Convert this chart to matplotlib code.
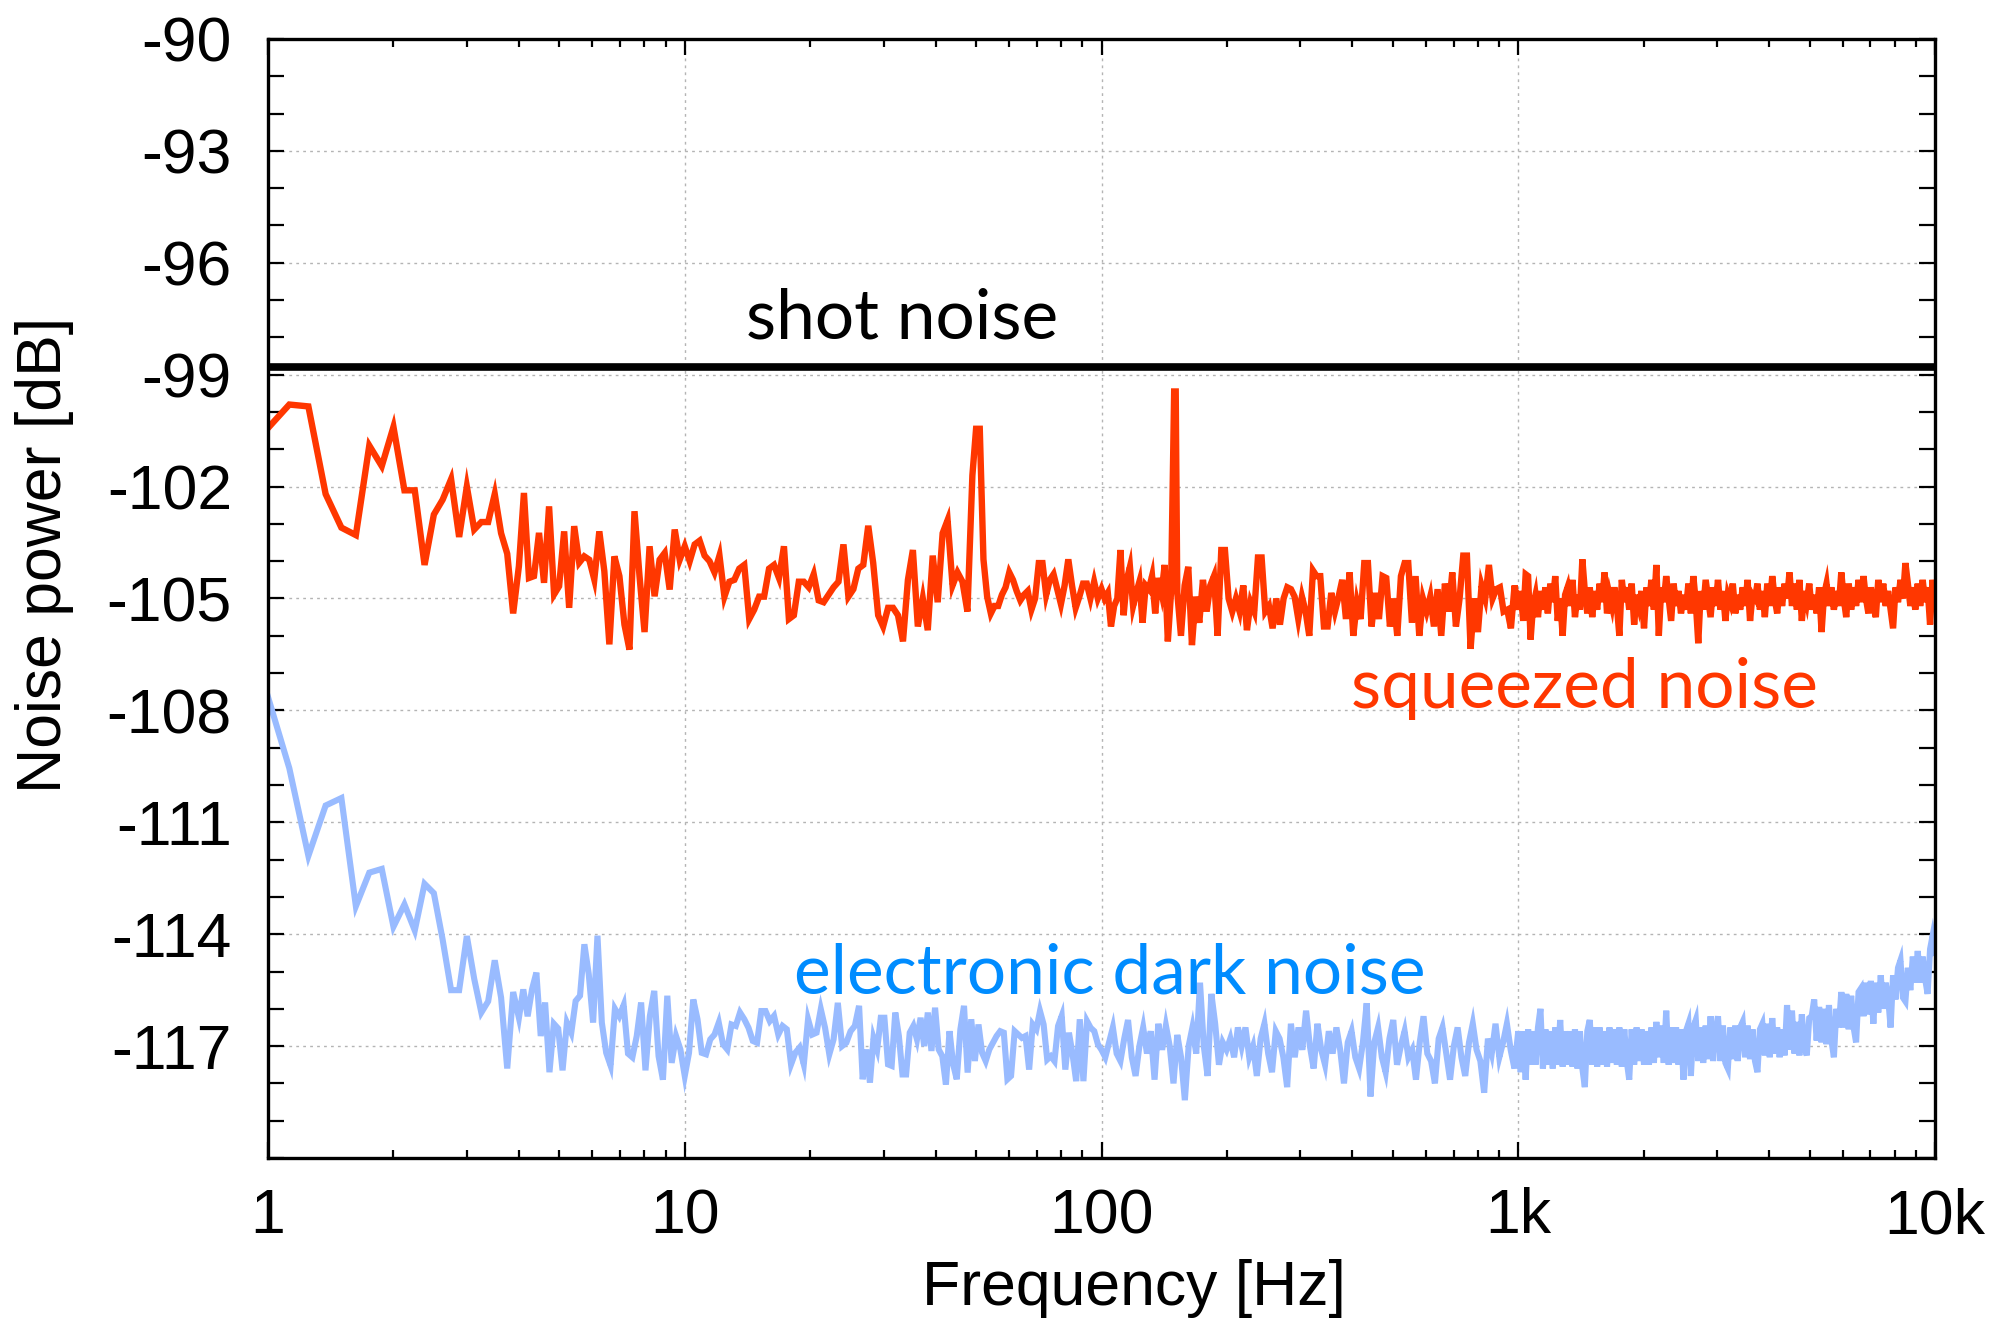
import numpy as np
import matplotlib
matplotlib.use("Agg")
import matplotlib.pyplot as plt
from matplotlib.ticker import FixedLocator, FixedFormatter, MultipleLocator, NullFormatter

plt.rcParams["axes.unicode_minus"] = False

# ---------------- data ----------------
x_ticks = [1, 10, 100, 1000, 10000]
x_tick_labels = ["1", "10", "100", "1k", "10k"]
y_ticks = [-90, -93, -96, -99, -102, -105, -108, -111, -114, -117]

shot_noise_level = -98.8

# squeezed noise (dB) -- spectrum pieces
sq_f_start, sq_f_step = 1.0, 0.125
sq_1_4 = [-100.43, -99.80, -99.85, -102.2, -103.1, -103.3, -100.9, -101.45, -100.4, -102.1,
          -102.1, -104.1, -102.75, -102.35, -101.8, -103.35, -102.0, -103.15, -102.95, -102.95,
          -102.2, -103.25, -103.8, -105.4]
sq_4_10 = [-104.13, -102.17, -104.45, -104.40, -103.24, -104.58, -102.53, -104.89, -104.67, -103.2,
           -105.25, -103.06, -104.04, -103.87, -103.96, -104.49, -103.2, -104.27, -106.23, -103.87,
           -104.4, -105.7, -106.37, -102.66, -104.4, -105.9, -103.6, -104.94, -103.96, -103.78,
           -104.76, -103.15, -103.96]
sq_10_49 = [-103.6, -104.0, -103.55, -103.45, -103.85, -104.0, -104.3, -103.85, -104.95, -104.55,
            -104.5, -104.2, -104.1, -105.55, -105.3, -104.95, -104.95, -104.2, -104.1, -104.45,
            -103.6, -105.55, -105.45, -104.55, -104.55, -104.7, -104.35, -105.05, -105.1, -104.9,
            -104.7, -104.55, -103.55, -104.95, -104.75, -104.2, -104.1, -103.05, -104.05, -105.45,
            -105.75, -105.25, -105.25, -105.45, -106.15, -104.5, -103.7, -105.75, -105.0, -105.85,
            -103.85, -105.1, -103.25, -102.9, -104.65, -104.3, -104.55, -105.35]
sq_49_100 = [-101.7, -100.45, -100.45, -103.95, -104.95, -105.4, -105.2, -105.2, -104.9, -104.7,
             -104.3, -104.5, -104.8, -105.05, -104.9, -104.8, -105.3, -105.0, -104.05, -104.05,
             -104.9, -104.5, -104.35, -104.75, -105.15, -104.65, -103.95, -104.65, -105.25, -104.95,
             -104.6, -104.6, -105.0, -104.55, -105.0]
sq_100_149 = [-104.75, -105.0, -104.85, -105.75, -105.2, -105.0, -103.7, -105.45, -104.5, -104.15,
              -105.2, -104.85, -104.55, -105.65, -104.65, -104.75, -104.4, -105.4, -104.45, -104.85,
              -104.1, -106.15, -104.85]
sq_149_152 = [-99.45, -99.45]
sq_152_1k = [-104.85, -106.0, -104.65, -104.15, -106.25, -104.95, -105.65, -104.5, -105.35, -104.65,
             -104.4, -106.0, -103.7, -103.7, -105.0, -105.35, -105.0, -105.35, -104.65, -105.85,
             -105.1, -105.35, -103.9, -103.9, -105.35, -105.2, -105.8, -105.0, -105.7, -105.0,
             -104.7, -104.75, -104.95, -105.55, -104.95, -105.35, -106.0, -104.25, -104.4, -104.4,
             -105.75, -105.75, -104.85, -105.35, -104.95, -104.5, -105.55, -104.3, -106.0, -105.1,
             -105.55, -104.05, -104.05, -105.75, -104.85, -105.55, -104.4, -104.45, -105.75, -105.0,
             -106.0, -104.4, -104.05, -104.05, -105.65, -104.4, -106.0, -105.0, -105.35, -104.95,
             -105.75, -104.75, -106.0, -104.6, -105.35, -104.3, -105.75, -105.0, -103.85, -103.85,
             -106.35, -105.0, -105.9, -104.65, -105.0, -104.1, -105.0, -104.75, -104.7, -105.35,
             -105.3, -105.8, -104.65]
sq_1k_10k = [-105.3, -104.8, -105.6, -104.35, -104.4, -106.1, -105.2, -104.9, -105.5, -104.8,
             -105.3, -104.7, -105.4, -104.6, -105.1, -104.4, -105.6, -105.0, -106.0, -104.9,
             -104.7, -105.2, -104.5, -105.5, -104.9, -105.3, -103.95, -104.8, -105.4, -104.7,
             -105.5, -104.8, -105.3, -104.6, -105.1, -104.3, -105.4, -104.9, -105.2, -104.7,
             -105.2, -106.0, -104.5, -105.1, -104.7, -105.3, -104.6, -105.7, -104.9, -105.2,
             -104.8, -105.8, -104.7, -105.2, -104.5, -105.3, -104.1, -106.0, -104.7, -105.1,
             -104.4, -105.0, -105.6, -104.6, -105.2, -104.8, -105.4, -104.9, -105.3, -104.6,
             -105.4, -104.4, -105.1, -106.2, -104.8, -105.3, -104.5, -105.0, -105.5, -104.7,
             -105.2, -104.5, -105.3, -104.8, -105.6, -104.9, -105.1, -104.6, -105.4, -104.9,
             -105.3, -104.7, -105.2, -104.5, -105.6, -104.9, -105.0, -104.6, -105.3, -104.8,
             -105.5, -104.6, -105.2, -104.4, -105.0, -105.4, -104.7, -105.2, -104.6, -105.0,
             -104.3, -105.2, -104.6, -105.3, -104.5, -105.6, -104.8, -105.1, -104.6, -105.3,
             -104.9, -105.4, -104.7, -105.9, -104.9, -104.6, -105.2, -104.7, -105.3, -104.8,
             -105.2, -104.3, -105.0, -105.5, -104.6, -105.3, -104.7, -105.2, -104.5, -105.1,
             -104.4, -105.0, -105.4, -104.7, -105.2, -105.5, -104.5, -105.1, -104.6, -105.2,
             -104.8, -105.3, -105.8, -104.7, -105.1, -104.5, -105.0, -104.05, -104.6, -105.2,
             -104.7, -105.3, -104.6, -105.2, -104.5, -105.1, -104.7, -105.7, -104.5, -105.0]

# electronic dark noise (dB)
dk_1_4 = [-107.64, -109.55, -111.9, -110.55, -110.35, -113.25, -112.35, -112.25, -113.8, -113.2,
          -113.9, -112.65, -112.9, -114.15, -115.5, -115.5, -114.05, -115.2, -116.1, -115.8,
          -114.7, -115.7, -117.6, -115.55]
dk_4_10 = [-116.24, -115.48, -116.2, -115.48, -115.03, -116.73, -115.83, -117.7, -116.4, -116.53,
           -117.65, -116.37, -116.64, -115.79, -115.65, -114.27, -115.07, -116.37, -114.04, -116.37,
           -117.18, -117.52, -116.0, -116.2, -115.9, -117.2, -117.3, -116.73, -115.83, -117.65,
           -116.2, -115.52, -117.27, -117.9, -115.65, -117.45, -116.73, -117.09]
dk_10_26 = [-117.8, -117.18, -115.75, -116.28, -117.18, -117.22, -116.82, -116.69, -116.37, -116.95,
            -117.09, -116.42, -116.46, -116.1, -116.28, -116.51, -116.86, -116.91, -116.06, -116.06,
            -116.33, -116.19, -116.69, -116.46, -116.55, -117.49, -117.18, -117.04, -117.49, -116.28,
            -116.69, -116.64, -116.01, -116.51, -117.22, -116.82, -115.84, -117.0, -116.91, -116.6,
            -116.46]
dk_26_100 = [-115.92, -117.89, -117.09, -117.98, -116.78, -117.09, -116.24, -116.24, -117.49, -117.53,
             -116.1, -116.73, -117.76, -117.76, -116.64, -116.46, -116.82, -116.24, -117.0, -116.1,
             -117.13, -115.97, -117.09, -117.27, -118.03, -116.6, -117.49, -117.89, -116.55, -115.92,
             -117.71, -116.28, -117.4, -116.42, -117.18, -117.4, -117.09, -116.91, -116.73, -116.6,
             -116.64, -117.89, -117.8, -116.6, -116.69, -116.78, -116.73, -117.63, -116.42, -116.55,
             -116.06, -116.42, -117.36, -117.27, -117.4, -116.46, -116.19, -117.63, -116.64, -117.22,
             -117.94, -116.28, -117.94, -116.33, -116.51, -116.6, -116.95]
dk_100_1k = [-117.1, -117.3, -116.9, -116.5, -117.2, -117.4, -116.8, -116.3, -117.3, -117.8,
             -117.0, -116.5, -117.2, -116.6, -117.9, -116.4, -117.1, -116.45, -117.0, -118.0,
             -116.7, -117.3, -118.45, -117.0, -116.5, -117.2, -115.3, -117.0, -117.8, -115.6,
             -116.4, -117.5, -116.9, -117.1, -116.8, -117.3, -116.5, -117.0, -116.5, -117.3,
             -117.0, -117.8, -116.8, -116.4, -117.2, -117.7, -116.6, -116.8, -117.3, -118.1,
             -116.4, -117.3, -116.5, -117.1, -116.05, -117.0, -117.6, -116.4, -117.1, -117.5,
             -116.6, -117.2, -116.5, -117.1, -118.0, -116.9, -116.6, -117.3, -117.6, -116.9,
             -115.85, -118.35, -116.9, -116.5, -117.3, -117.7, -116.8, -116.3, -117.5, -117.0,
             -116.6, -117.3, -117.1, -117.9, -116.9, -116.2, -117.2, -117.4, -118.0, -116.8,
             -116.5, -117.2, -117.9, -117.0, -116.5, -117.3, -117.8, -116.9, -116.4, -117.1,
             -117.4, -118.25, -116.8, -117.2, -116.4, -117.3, -116.9, -116.4, -117.1, -117.6]
dk_1k_10k = [-116.6, -117.7, -116.6, -117.9, -116.55, -117.5, -116.6, -117.5, -116.5, -116.0,
             -117.6, -116.55, -117.5, -116.6, -117.6, -116.5, -117.5, -116.3, -117.55, -116.6,
             -117.5, -116.6, -117.55, -116.55, -117.6, -116.6, -117.6, -118.1, -116.6, -116.3,
             -117.5, -116.5, -117.55, -116.5, -117.5, -116.6, -117.55, -116.5, -117.45, -116.55,
             -117.5, -116.5, -117.55, -116.55, -117.4, -117.9, -116.55, -117.5, -116.5, -117.4,
             -116.55, -117.5, -116.6, -117.5, -116.5, -117.45, -116.35, -117.3, -116.45, -117.45,
             -116.05, -117.5, -116.5, -117.45, -116.5, -117.5, -116.55, -117.9, -116.6, -116.4,
             -117.8, -116.5, -116.3, -117.4, -116.5, -117.45, -116.45, -117.35, -116.2, -117.4,
             -116.6, -116.2, -117.4, -116.45, -117.45, -117.6, -116.5, -117.35, -116.45, -117.4,
             -116.5, -116.35, -117.3, -116.45, -117.35, -116.55, -117.4, -117.7, -116.55, -116.4,
             -117.25, -116.4, -117.3, -116.25, -117.2, -116.5, -117.3, -116.55, -117.25, -115.9,
             -117.1, -116.05, -117.2, -116.35, -117.25, -116.15, -117.0, -117.25, -116.25, -116.2,
             -115.75, -116.85, -115.95, -116.9, -116.0, -116.95, -115.9, -116.85, -117.3, -116.0,
             -116.5, -115.55, -116.5, -115.6, -116.55, -115.65, -116.5, -116.9, -115.55, -115.45,
             -116.2, -115.3, -116.15, -115.25, -116.4, -115.3, -116.1, -115.1, -116.0, -115.3,
             -115.7, -116.5, -115.1, -115.75, -114.9, -114.7, -115.7, -115.8, -114.9, -115.5,
             -114.6, -115.3, -114.45, -115.3, -114.6, -115.2, -115.6, -114.4, -114.05, -114.5]


def log_bins(f0, f1, vals, endpoint=False):
    return np.geomspace(f0, f1, len(vals), endpoint=endpoint)


def lin_bins(f0, df, vals):
    return f0 + df * np.arange(len(vals))


sq_f = np.concatenate([
    lin_bins(sq_f_start, sq_f_step, sq_1_4),
    log_bins(4, 10, sq_4_10),
    log_bins(10, 49, sq_10_49),
    log_bins(49, 100, sq_49_100),
    log_bins(100, 149.4, sq_100_149),
    log_bins(149.4, 152, sq_149_152),
    log_bins(152, 1000, sq_152_1k),
    log_bins(1000, 10000, sq_1k_10k, endpoint=True),
])
sq_db = np.concatenate([sq_1_4, sq_4_10, sq_10_49, sq_49_100, sq_100_149,
                        sq_149_152, sq_152_1k, sq_1k_10k])

dk_f = np.concatenate([
    lin_bins(sq_f_start, sq_f_step, dk_1_4),
    log_bins(4, 10, dk_4_10),
    log_bins(10, 26.2, dk_10_26),
    log_bins(26.2, 100, dk_26_100),
    log_bins(100, 1000, dk_100_1k),
    log_bins(1000, 10000, dk_1k_10k, endpoint=True),
])
dk_db = np.concatenate([dk_1_4, dk_4_10, dk_10_26, dk_26_100, dk_100_1k, dk_1k_10k])

# ---------------- figure ----------------
W, H = 1998, 1320
fig = plt.figure(figsize=(W / 100, H / 100), dpi=100)
ax = fig.add_axes([268 / W, 1 - 1158 / H, (1935 - 268) / W, (1158 - 39) / H])

RED = "#ff3700"
BLUE_LINE = "#99bbff"
BLUE_TEXT = "#008cff"
TICK_FONT = "Liberation Sans"
ANN_FONT = "Lato"

ax.set_xscale("log")
ax.set_xlim(1, 10000)
ax.set_ylim(-120, -90)

ax.plot(dk_f, dk_db, color=BLUE_LINE, lw=4.4, solid_joinstyle="miter", zorder=3)
ax.plot(sq_f, sq_db, color=RED, lw=4.6, solid_joinstyle="miter", zorder=4)
ax.axhline(shot_noise_level, color="black", lw=5.5, zorder=5)

ax.xaxis.set_major_locator(FixedLocator(x_ticks))
ax.xaxis.set_major_formatter(FixedFormatter(x_tick_labels))
minor_x = [m * 10 ** e for e in range(0, 4) for m in range(2, 10)]
ax.xaxis.set_minor_locator(FixedLocator(minor_x))
ax.xaxis.set_minor_formatter(NullFormatter())
ax.yaxis.set_major_locator(FixedLocator(y_ticks))
ax.yaxis.set_minor_locator(MultipleLocator(1))

ax.grid(True, which="major", color="#b4b4b4", lw=1.0, linestyle=(0, (2, 3)), zorder=0)
ax.set_axisbelow(True)

for s in ax.spines.values():
    s.set_linewidth(2.4)
    s.set_zorder(6)

ax.tick_params(axis="both", which="both", direction="in", top=True, right=True,
               width=1.6, color="black")
ax.tick_params(axis="x", which="major", length=11.5, pad=21)
ax.tick_params(axis="x", which="minor", length=5.8)
ax.tick_params(axis="y", which="both", length=11.5, pad=26)
for lab in ax.get_xticklabels() + ax.get_yticklabels():
    lab.set_fontfamily(TICK_FONT)
    lab.set_fontsize(45)

fig.text(45 / W, 1 - 555 / H, "Noise power [dB]", rotation=90, ha="center", va="center",
         fontsize=45, family=TICK_FONT)
fig.text(1134 / W, 1 - 1288 / H, "Frequency [Hz]", ha="center", va="center",
         fontsize=45, family=TICK_FONT)

ax.text(33.3, -98.04, "shot noise", ha="center", va="baseline", fontsize=50,
        family=ANN_FONT, color="black", zorder=7)
ax.text(1439, -107.94, "squeezed noise", ha="center", va="baseline", fontsize=50,
        family=ANN_FONT, color=RED, zorder=7)
ax.text(104.5, -115.58, "electronic dark noise", ha="center", va="baseline", fontsize=50,
        family=ANN_FONT, color=BLUE_TEXT, zorder=7)

fig.savefig("out.png", dpi=100)
